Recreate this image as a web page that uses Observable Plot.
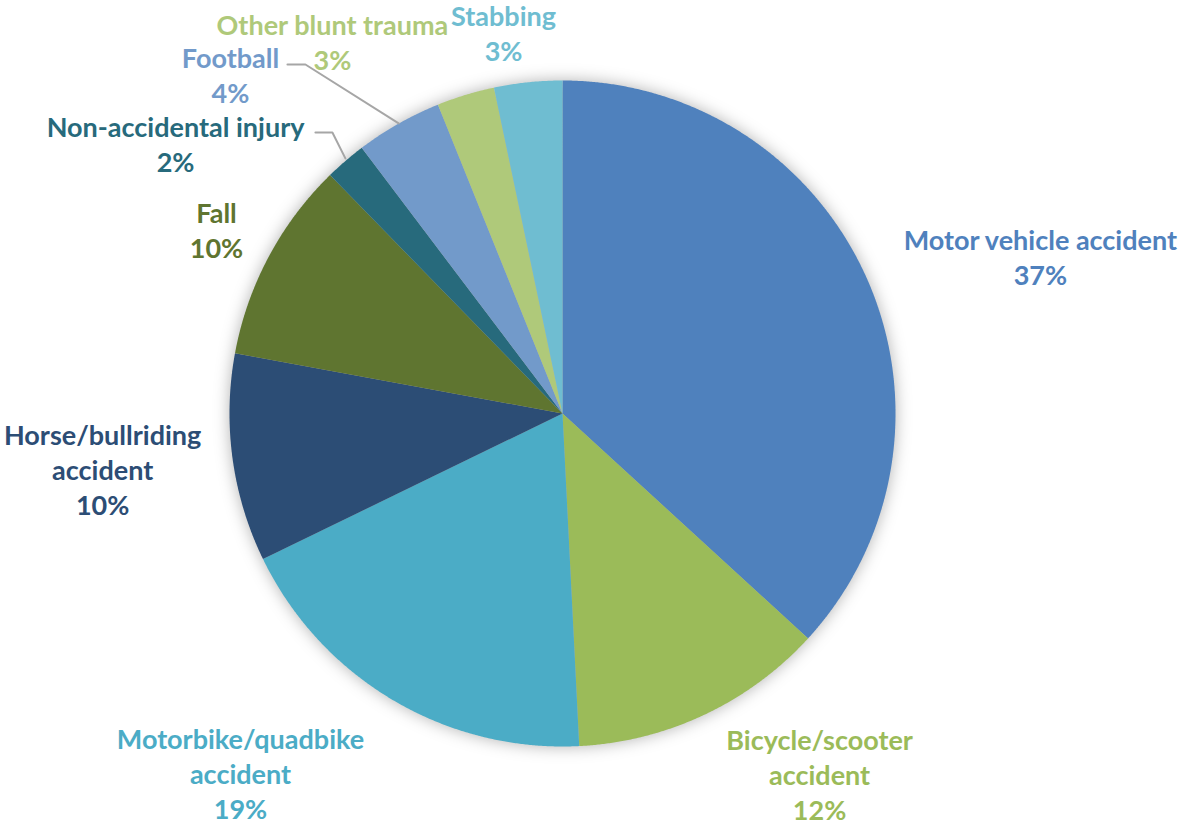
<!DOCTYPE html>
<html><head><meta charset="utf-8">
<script src="https://cdn.jsdelivr.net/npm/d3@7"></script>
<script src="https://cdn.jsdelivr.net/npm/@observablehq/plot@0.6"></script>
<style>body{margin:0;background:#fff}</style>
</head><body><div id="chart"></div>
<script>
// ---- data ----
const categories = ["Motor vehicle accident", "Bicycle/scooter accident", "Motorbike/quadbike accident",
  "Horse/bullriding accident", "Fall", "Non-accidental injury", "Football", "Other blunt trauma", "Stabbing"];
const shares = [36.8, 12.4, 18.6, 10.1, 9.8, 2.0, 4.2, 2.8, 3.3];
const percentLabels = ["37%", "12%", "19%", "10%", "10%", "2%", "4%", "3%", "3%"];
const displayNames = ["Motor vehicle accident", "Bicycle/scooter\naccident", "Motorbike/quadbike\naccident",
  "Horse/bullriding\naccident", "Fall", "Non-accidental injury", "Football", "Other blunt trauma", "Stabbing"];

// ---- styling / layout ----
const colors = ["#4F81BD", "#9BBB59", "#4BACC6", "#2C4D75", "#5F7530", "#276A7C", "#729ACA", "#AFC97A", "#6FBDD1"];
// label centres in pie-radius units (manual placement as in the original)
const labelAt = [[1.435, 0.471], [0.772, -1.083], [-0.967, -1.078], [-1.381, -0.165], [-1.039, 0.553],
  [-1.162, 0.811], [-0.997, 1.018], [-0.691, 1.117], [-0.177, 1.146]];
const leaders = [
  {id: "Football", pts: [[-0.826, 1.048], [-0.772, 1.048], [-0.492, 0.871]]},
  {id: "Non-accidental injury", pts: [[-0.742, 0.844], [-0.691, 0.844], [-0.652, 0.766]]}
];

const W = 1181, H = 827, cx = 562, cy = 413, R = 333;

// slice polygons from the shares (clockwise from 12 o'clock)
const total = d3.sum(shares);
const slicePts = [];
let acc = 0;
shares.forEach((s, i) => {
  const a0 = acc / total * 2 * Math.PI, a1 = (acc + s) / total * 2 * Math.PI;
  acc += s;
  slicePts.push({k: categories[i], c: colors[i], x: 0, y: 0});
  const n = Math.max(2, Math.ceil((a1 - a0) / (Math.PI / 720)));
  for (let j = 0; j <= n; j++) {
    const a = a0 + (a1 - a0) * j / n;
    slicePts.push({k: categories[i], c: colors[i], x: Math.sin(a), y: Math.cos(a)});
  }
  slicePts.push({k: categories[i], c: colors[i], x: 0, y: 0});
});

const labels = categories.map((k, i) => ({k, text: displayNames[i] + "\n" + percentLabels[i], c: colors[i], x: labelAt[i][0], y: labelAt[i][1]}));
const leaderPts = leaders.flatMap(l => l.pts.map(p => ({id: l.id, x: p[0], y: p[1]})));

const chart = Plot.plot({
  width: W, height: H, margin: 0,
  x: {domain: [-cx / R, (W - cx) / R], axis: null},
  y: {domain: [-(H - cy) / R, cy / R], axis: null},
  color: {type: "identity"},
  marks: [
    Plot.line(slicePts, {x: "x", y: "y", z: "k", fill: "c", stroke: "none", curve: "linear"}),
    Plot.line(leaderPts, {x: "x", y: "y", z: "id", stroke: "#A6A6A6", strokeWidth: 2}),
    Plot.text(labels, {x: "x", y: "y", text: "text", fill: "c", fontSize: 27, fontWeight: "bold",
      fontFamily: "Lato", lineHeight: 1.3, textAnchor: "middle"})
  ]
});
const g = chart.querySelector('g[aria-label="line"]');
if (g) g.style.filter = "drop-shadow(0px 0px 8px rgba(0,0,0,0.3))";
document.getElementById("chart").appendChild(chart);
</script>
</body></html>
